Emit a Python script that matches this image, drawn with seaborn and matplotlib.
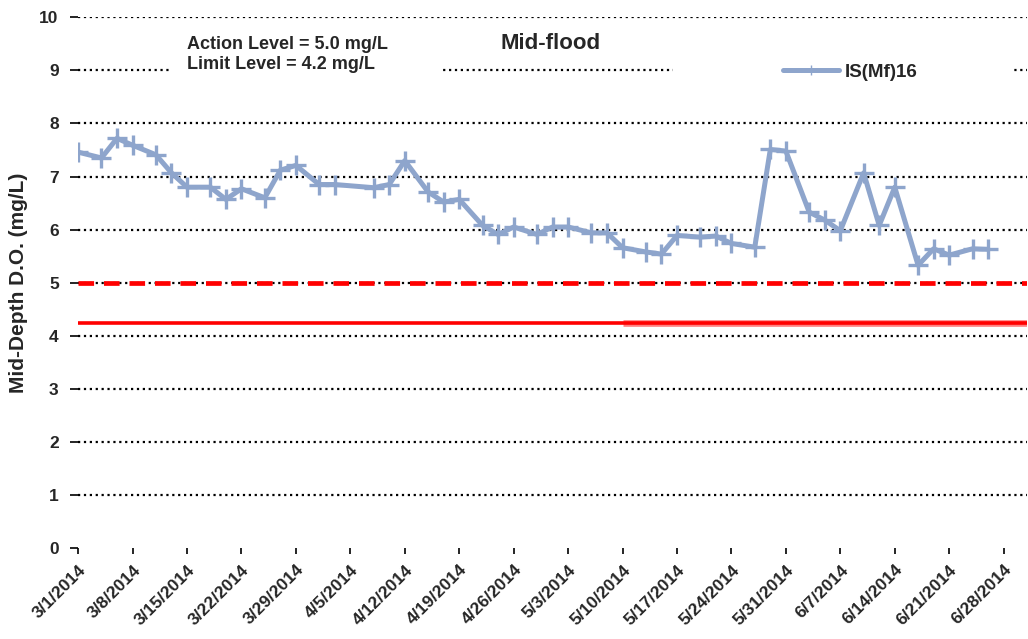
import pandas as pd
import numpy as np
import matplotlib
matplotlib.use('Agg')
import matplotlib.pyplot as plt
from matplotlib.patches import Rectangle
import seaborn as sns

# Sampling dates and mid-depth DO readings (mg/L)
dates = ['2014-03-01', '2014-03-04', '2014-03-06', '2014-03-08', '2014-03-11',
         '2014-03-13', '2014-03-15', '2014-03-18', '2014-03-20', '2014-03-22',
         '2014-03-25', '2014-03-27', '2014-03-29', '2014-04-01', '2014-04-03',
         '2014-04-08', '2014-04-10', '2014-04-12', '2014-04-15', '2014-04-17',
         '2014-04-19', '2014-04-22', '2014-04-24', '2014-04-26', '2014-04-29',
         '2014-05-01', '2014-05-03', '2014-05-06', '2014-05-08', '2014-05-10',
         '2014-05-13', '2014-05-15', '2014-05-17', '2014-05-20', '2014-05-22',
         '2014-05-24', '2014-05-27', '2014-05-29', '2014-05-31', '2014-06-03',
         '2014-06-05', '2014-06-07', '2014-06-10', '2014-06-12', '2014-06-14',
         '2014-06-17', '2014-06-19', '2014-06-21', '2014-06-24', '2014-06-26']
do_values = [7.46, 7.35, 7.72, 7.59, 7.41, 7.07, 6.80, 6.80, 6.57, 6.77,
             6.60, 7.12, 7.21, 6.85, 6.85, 6.79, 6.85, 7.30, 6.71, 6.52,
             6.57, 6.08, 5.91, 6.05, 5.91, 6.05, 6.05, 5.94, 5.94, 5.66,
             5.58, 5.54, 5.89, 5.86, 5.88, 5.74, 5.67, 7.51, 7.48, 6.33,
             6.18, 5.98, 7.07, 6.08, 6.80, 5.33, 5.64, 5.52, 5.64, 5.63]
station = 'IS(Mf)16'

action_level = 5.0
limit_level = 4.25
limit_split = '2014-05-10'

x_start, x_end = '2014-03-01', '2014-07-01'
tick_dates = pd.date_range('2014-03-01', '2014-06-28', freq='7D')
tick_labels = [f'{d.month}/{d.day}/{d.year}' for d in tick_dates]

df = pd.DataFrame({'Date': pd.to_datetime(dates), 'DO': do_values, 'Station': station})

line_color = '#8ea5cc'

sns.set_style('white')
plt.rcParams['font.family'] = ['Liberation Sans', 'DejaVu Sans']
plt.rcParams['font.weight'] = 'bold'

fig = plt.figure(figsize=(10.28, 6.39), dpi=100)
ax = fig.add_axes([0.076, 0.142, 0.923, 0.831])

# dotted black gridlines
for v in range(1, 11):
    ax.axhline(v, color='black', linestyle=':', linewidth=1.6, zorder=1)

# white boxes behind annotation and legend (break the 9 gridline)
ax.add_patch(Rectangle((0.097, 0.875), 0.285, 0.09, transform=ax.transAxes,
                       facecolor='white', edgecolor='none', zorder=2))
ax.add_patch(Rectangle((0.627, 0.875), 0.357, 0.05, transform=ax.transAxes,
                       facecolor='white', edgecolor='none', zorder=2))

# action and limit levels
ax.axhline(action_level, color='#ff0000', linestyle=(0, (3.3, 2.1)), linewidth=3.4, zorder=3)
ax.hlines(limit_level, pd.Timestamp(limit_split), pd.Timestamp(x_end),
          color='#ff8080', linewidth=4.8, zorder=3)
ax.axhline(limit_level, color='#ff0000', linewidth=2.6, zorder=3)

sns.lineplot(data=df, x='Date', y='DO', ax=ax, color=line_color, linewidth=3.6,
             marker='+', markersize=15, markeredgewidth=2.4,
             markeredgecolor=line_color, label=station, zorder=4)

ax.set_xlim(pd.Timestamp(x_start), pd.Timestamp(x_end))
ax.set_ylim(0, 10)
ax.set_yticks(range(0, 11))
ax.set_xticks(tick_dates)
ax.set_xticklabels(tick_labels, rotation=45, ha='right', va='top', rotation_mode='anchor',
                   fontsize=12.5, fontweight='bold')
ax.tick_params(axis='y', labelsize=12.5, length=6, width=1.2, color='black', pad=8, left=True)
ax.tick_params(axis='x', length=4, width=1.2, color='black', pad=6, bottom=True, direction='out')
for lbl in ax.get_yticklabels():
    lbl.set_fontweight('bold')
for s in ax.spines.values():
    s.set_visible(False)

ax.set_xlabel('')
ax.set_ylabel('Mid-Depth D.O. (mg/L)', fontsize=15, fontweight='bold', labelpad=8)

ax.text(0.115, 0.949, 'Action Level = 5.0 mg/L', transform=ax.transAxes,
        fontsize=13, fontweight='bold', va='center', ha='left', zorder=5)
ax.text(0.115, 0.911, 'Limit Level = 4.2 mg/L', transform=ax.transAxes,
        fontsize=13, fontweight='bold', va='center', ha='left', zorder=5)
ax.text(0.498, 0.951, 'Mid-flood', transform=ax.transAxes,
        fontsize=16, fontweight='bold', va='center', ha='center', zorder=5)

leg = ax.legend(loc='center left', bbox_to_anchor=(0.735, 0.897), frameon=False,
                handlelength=3.0, handletextpad=0.3, fontsize=13.5, borderaxespad=0)
for t in leg.get_texts():
    t.set_fontweight('bold')
for h in leg.legend_handles:
    h.set_markersize(7)
    h.set_markeredgewidth(1)

plt.savefig('out.png', dpi=100)
